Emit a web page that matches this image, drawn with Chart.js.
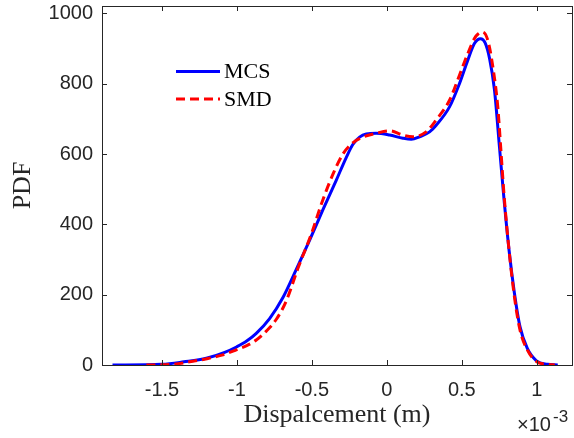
<!DOCTYPE html>
<html>
<head>
    <title>PDF of displacement</title>
    <script src="https://cdn.jsdelivr.net/npm/chart.js"></script>
    <style>
        body { margin: 0; background: white; }
        .chart-container { width: 574px; height: 438px; }
    </style>
</head>
<body>
    <div class="chart-container">
        <canvas id="pdfChart" width="574" height="438"></canvas>
    </div>

    <script>
        // displacement in units of 1e-3 m
        const mcsX = [-1.83, -1.5, -1.354, -1.204, -1.086, -1.0, -0.935, -0.871, -0.782, -0.693, -0.604, -0.515,
                      -0.427, -0.337, -0.271, -0.227, -0.182, -0.137, -0.071, 0.018, 0.107, 0.163, 0.218, 0.285,
                      0.329, 0.418, 0.485, 0.54, 0.585, 0.625, 0.655, 0.685, 0.718, 0.751, 0.778, 0.815, 0.851,
                      0.888, 0.937, 0.998, 1.071, 1.14];
        const mcsY = [0, 2, 9, 19, 35, 52, 68, 90, 132, 192, 272, 355,
                      441, 526, 590, 627, 648, 657, 659, 654, 645, 642, 649, 663,
                      682, 734, 801, 867, 915, 928, 917, 872, 782, 621, 488, 327, 204,
                      109, 47, 12, 2, 0];

        const smdX = [-1.604, -1.428, -1.315, -1.2, -1.1, -1.004, -0.935, -0.871, -0.8, -0.737, -0.671, -0.593,
                      -0.504, -0.43, -0.355, -0.293, -0.227, -0.16, -0.071, 0.018, 0.107, 0.173, 0.262, 0.329,
                      0.418, 0.485, 0.54, 0.585, 0.61, 0.638, 0.673, 0.707, 0.74, 0.762, 0.781, 0.815, 0.851,
                      0.888, 0.937, 0.998, 1.071, 1.12];
        const smdY = [0, 2, 9, 18, 28, 43, 55, 71, 98, 130, 182, 275,
                      372, 466, 547, 600, 632, 648, 659, 666, 654, 649, 663, 697,
                      753, 825, 886, 929, 942, 947, 924, 848, 734, 603, 488, 327, 194,
                      100, 43, 10, 2, 0];

        const xTicks = [-1.5, -1, -0.5, 0, 0.5, 1];
        const yTicks = [0, 200, 400, 600, 800, 1000];

        const axisColor = '#262626';
        const sansFont = 'Liberation Sans, Arial, sans-serif';
        const serifFont = 'Liberation Serif, Times New Roman, serif';

        const toPoints = (xs, ys) => xs.map((x, i) => ({ x: x, y: ys[i] }));

        // MATLAB style box, inward ticks, legend and exponent label
        const matlabLook = {
            id: 'matlabLook',
            afterDraw(chart) {
                const { ctx, chartArea: a, scales: { x, y } } = chart;
                const tl = 5;
                ctx.save();
                ctx.strokeStyle = axisColor;
                ctx.lineWidth = 1;
                ctx.strokeRect(Math.round(a.left) + 0.5, Math.round(a.top) + 0.5,
                    Math.round(a.right - a.left), Math.round(a.bottom - a.top));
                ctx.beginPath();
                xTicks.forEach(v => {
                    const px = Math.round(x.getPixelForValue(v)) + 0.5;
                    ctx.moveTo(px, a.bottom); ctx.lineTo(px, a.bottom - tl);
                    ctx.moveTo(px, a.top); ctx.lineTo(px, a.top + tl);
                });
                yTicks.forEach(v => {
                    const py = Math.round(y.getPixelForValue(v)) + 0.5;
                    ctx.moveTo(a.left, py); ctx.lineTo(a.left + tl, py);
                    ctx.moveTo(a.right, py); ctx.lineTo(a.right - tl, py);
                });
                ctx.stroke();

                // legend (no box)
                const entries = chart.data.datasets;
                const rows = [71.5, 99];
                ctx.font = '22px ' + serifFont;
                ctx.textBaseline = 'middle';
                ctx.textAlign = 'left';
                [entries[1], entries[0]].forEach((ds, i) => {
                    ctx.beginPath();
                    ctx.strokeStyle = ds.borderColor;
                    ctx.lineWidth = ds.borderWidth;
                    ctx.setLineDash(ds.borderDash || []);
                    ctx.moveTo(176, rows[i]);
                    ctx.lineTo(220, rows[i]);
                    ctx.stroke();
                    ctx.setLineDash([]);
                    ctx.fillStyle = '#000';
                    ctx.fillText(ds.label, 224, rows[i] + 1);
                });

                // x10^-3
                ctx.fillStyle = axisColor;
                ctx.textBaseline = 'alphabetic';
                ctx.font = '20px ' + sansFont;
                ctx.fillText('\u00d710', 517, 431);
                ctx.font = '17px ' + sansFont;
                ctx.fillText('-3', 553, 422);
                ctx.restore();
            }
        };

        const ctx = document.getElementById('pdfChart').getContext('2d');
        const chart = new Chart(ctx, {
            type: 'line',
            data: {
                datasets: [{
                    label: 'SMD',
                    data: toPoints(smdX, smdY),
                    borderColor: '#ff0000',
                    borderWidth: 3,
                    borderDash: [9, 5],
                    pointRadius: 0,
                    cubicInterpolationMode: 'monotone',
                    order: 1
                }, {
                    label: 'MCS',
                    data: toPoints(mcsX, mcsY),
                    borderColor: '#0000ff',
                    borderWidth: 3,
                    pointRadius: 0,
                    cubicInterpolationMode: 'monotone',
                    order: 2
                }]
            },
            options: {
                responsive: false,
                animation: false,
                layout: { padding: { top: 6, right: 2, left: 0, bottom: 0 } },
                plugins: {
                    legend: { display: false },
                    tooltip: { enabled: false }
                },
                scales: {
                    x: {
                        type: 'linear',
                        min: -1.9,
                        max: 1.235,
                        grid: { display: false, drawTicks: false },
                        border: { display: false },
                        afterBuildTicks: s => { s.ticks = xTicks.map(v => ({ value: v })); },
                        afterFit: s => { s.height = 73; s.paddingLeft = 0; s.paddingRight = 0; },
                        ticks: {
                            color: axisColor,
                            font: { family: sansFont, size: 20 },
                            padding: 13,
                            maxRotation: 0,
                            callback: v => String(v)
                        },
                        title: {
                            display: true,
                            text: 'Dispalcement (m)',
                            color: axisColor,
                            font: { family: serifFont, size: 26 },
                            padding: { top: 0, bottom: 7 }
                        }
                    },
                    y: {
                        min: 0,
                        max: 1021,
                        grid: { display: false, drawTicks: false },
                        border: { display: false },
                        afterBuildTicks: s => { s.ticks = yTicks.map(v => ({ value: v })); },
                        afterFit: s => { s.width = 102; s.paddingTop = 0; s.paddingBottom = 0; },
                        ticks: {
                            color: axisColor,
                            font: { family: sansFont, size: 20 },
                            padding: 9,
                            callback: v => String(v)
                        },
                        title: {
                            display: true,
                            text: 'PDF',
                            color: axisColor,
                            font: { family: serifFont, size: 26 },
                            padding: { top: 8, bottom: 0 }
                        }
                    }
                }
            },
            plugins: [matlabLook]
        });
    </script>
</body>
</html>
